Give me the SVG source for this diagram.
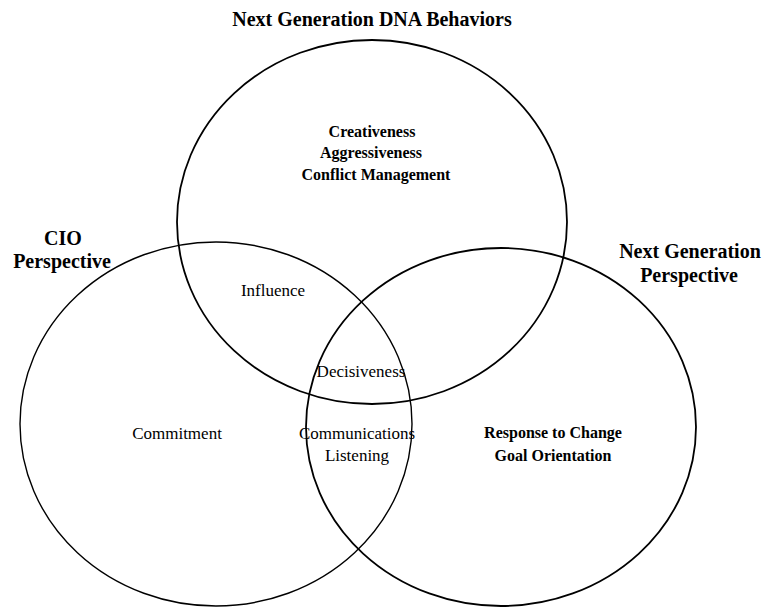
<svg xmlns="http://www.w3.org/2000/svg" width="764" height="609" viewBox="0 0 764 609">
<style>
.c{fill:none;stroke:#000}
.b{font-family:"Liberation Serif","Times New Roman",serif;font-weight:bold;text-anchor:middle;fill:#000}
.h{font-size:20px}
.s{font-size:16px}
.r{font-family:"Liberation Serif","Times New Roman",serif;font-size:17px;text-anchor:middle;fill:#000}
</style>
<rect width="764" height="609" fill="#fff"/>
<g id="dna-behaviors">
<ellipse class="c" cx="372" cy="222" rx="195" ry="182" stroke-width="1.8"/>
<text class="b h" x="372" y="26">Next Generation DNA Behaviors</text>
<text class="b s" x="372" y="137">Creativeness</text>
<text class="b s" x="371" y="158">Aggressiveness</text>
<text class="b s" x="376" y="180">Conflict Management</text>
</g>
<g id="cio-perspective">
<ellipse class="c" cx="216" cy="424" rx="196" ry="182" stroke-width="1.4"/>
<text class="b h" x="63" y="245">CIO</text>
<text class="b h" x="62" y="268">Perspective</text>
<text class="r" x="177" y="439">Commitment</text>
</g>
<g id="next-gen-perspective">
<ellipse class="c" cx="501" cy="427" rx="195" ry="179" stroke-width="1.8"/>
<text class="b h" x="690" y="258">Next Generation</text>
<text class="b h" x="689" y="282">Perspective</text>
<text class="b s" x="553" y="438">Response to Change</text>
<text class="b s" x="553" y="461">Goal Orientation</text>
</g>
<g id="overlaps">
<text class="r" x="273" y="296">Influence</text>
<text class="r" x="361" y="377">Decisiveness</text>
<text class="r" x="357" y="439">Communications</text>
<text class="r" x="357" y="461">Listening</text>
</g>
<g id="connectors"/>
</svg>
